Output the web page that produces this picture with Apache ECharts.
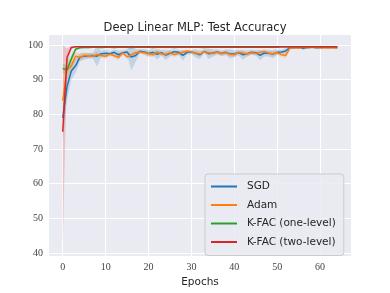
<!DOCTYPE html>
<html><head><meta charset="utf-8">
<script src="https://cdn.jsdelivr.net/npm/echarts@6/dist/echarts.min.js"></script>
<style>html,body{margin:0;padding:0;background:#fff}#c{width:390px;height:293px}</style>
</head><body><div id="c"></div>
<script>
const epochs = Array.from({length: 65}, (_, i) => i);
const xTicks = [0, 10, 20, 30, 40, 50, 60];
const yTicks = [40, 50, 60, 70, 80, 90, 100];
const seriesNames = ['SGD', 'Adam', 'K-FAC (one-level)', 'K-FAC (two-level)'];
const colors = ['#1f77b4', '#ff7f0e', '#2ca02c', '#d62728'];

const sgd = [79, 88, 92.5, 94, 96.5, 96.8, 96.9, 97.0, 96.8, 97.5, 97.6, 97.5, 97.9, 97.2, 97.8, 98.0, 96.5, 97.0, 98.2, 98.0, 97.6, 97.9, 97.3, 97.8, 97.1, 97.6, 98.1, 97.9, 97.0, 97.9, 98.0, 97.6, 97.2, 98.2, 97.5, 97.7, 98.0, 97.6, 97.9, 97.4, 97.5, 97.8, 97.2, 97.5, 97.9, 97.8, 97.0, 97.7, 97.6, 97.4, 97.9, 98.0, 98.3, 99.3, 99.2, 99.4, 99.1, 99.3, 99.4, 99.2, 99.3, 99.4, 99.3, 99.4, 99.3];
const sgdSpread = [7, 4, 2.5, 2, 1.2, 1, 0.8, 0.8, 3, 0.8, 1.2, 0.6, 0.8, 1.2, 0.6, 0.8, 3.8, 1.8, 0.6, 0.8, 1, 0.8, 1.5, 0.8, 1.4, 1, 0.6, 0.7, 1.5, 0.7, 0.6, 1.2, 1.2, 0.5, 1.5, 1, 0.7, 0.8, 0.8, 1.3, 1, 0.8, 1.4, 0.9, 0.7, 0.8, 1.4, 1, 0.9, 1.2, 0.8, 0.6, 0.8, 0.3, 0.3, 0.2, 0.5, 0.3, 0.2, 0.3, 0.5, 0.2, 0.3, 0.2, 0.2];
const adam = [84, 92.8, 94, 96.8, 96.4, 97.0, 97.0, 96.8, 97.3, 97.0, 96.8, 97.4, 96.9, 96.5, 97.8, 96.6, 97.1, 97.8, 98.0, 97.8, 97.5, 97.2, 98.0, 97.5, 97.3, 97.8, 97.2, 97.6, 97.9, 98.2, 98.0, 97.7, 97.4, 98.1, 97.8, 97.6, 97.9, 97.5, 97.8, 97.3, 97.2, 97.9, 97.7, 97.4, 97.8, 97.6, 97.9, 98.1, 97.7, 97.5, 97.8, 97.2, 97.0, 99.2, 99.3, 99.1, 99.4, 99.2, 99.3, 99.4, 99.2, 99.3, 99.2, 99.3, 99.1];
const adamSpread = [6, 3, 2, 1.2, 1, 0.8, 0.8, 0.7, 0.8, 0.7, 0.8, 0.6, 0.7, 0.8, 0.6, 0.7, 0.7, 0.6, 0.5, 0.6, 0.7, 0.7, 0.6, 0.6, 0.7, 0.6, 0.7, 0.6, 0.6, 0.5, 0.5, 0.6, 0.7, 0.5, 0.6, 0.6, 0.5, 0.6, 0.6, 0.6, 0.7, 0.5, 0.6, 0.6, 0.5, 0.6, 0.6, 0.5, 0.6, 0.7, 0.6, 0.7, 0.8, 0.3, 0.3, 0.3, 0.2, 0.3, 0.2, 0.2, 0.3, 0.2, 0.3, 0.2, 0.3];
const kfac1 = [93.2, 92.9, 96, 98.8, 99.2, 99.3, 99.3, 99.4, 99.4, 99.3, 99.4, 99.4, 99.3, 99.4, 99.4, 99.4, 99.3, 99.4, 99.4, 99.4, 99.4, 99.3, 99.4, 99.4, 99.4, 99.4, 99.3, 99.4, 99.4, 99.4, 99.4, 99.4, 99.4, 99.3, 99.4, 99.4, 99.4, 99.4, 99.4, 99.4, 99.4, 99.4, 99.4, 99.4, 99.4, 99.4, 99.4, 99.4, 99.4, 99.4, 99.4, 99.5, 99.5, 99.5, 99.5, 99.5, 99.5, 99.5, 99.5, 99.5, 99.5, 99.5, 99.5, 99.5, 99.5];
const kfac1Spread = [1.5, 1.2, 1.2, 0.5, 0.2, 0.2, 0.2, 0.1, 0.1, 0.2, 0.1, 0.1, 0.2, 0.1, 0.1, 0.1, 0.2, 0.1, 0.1, 0.1, 0.1, 0.2, 0.1, 0.1, 0.1, 0.1, 0.2, 0.1, 0.1, 0.1, 0.1, 0.1, 0.1, 0.2, 0.1, 0.1, 0.1, 0.1, 0.1, 0.1, 0.1, 0.1, 0.1, 0.1, 0.1, 0.1, 0.1, 0.1, 0.1, 0.1, 0.1, 0.1, 0.1, 0.1, 0.1, 0.1, 0.1, 0.1, 0.1, 0.1, 0.1, 0.1, 0.1, 0.1, 0.1];
const kfac2 = [75, 96.4, 99.3, 99.5, 99.5, 99.5, 99.5, 99.5, 99.5, 99.5, 99.5, 99.5, 99.5, 99.5, 99.5, 99.5, 99.5, 99.5, 99.5, 99.5, 99.5, 99.5, 99.5, 99.5, 99.5, 99.5, 99.5, 99.5, 99.5, 99.5, 99.5, 99.5, 99.5, 99.5, 99.5, 99.5, 99.5, 99.5, 99.5, 99.5, 99.5, 99.5, 99.5, 99.5, 99.5, 99.5, 99.5, 99.5, 99.5, 99.5, 99.5, 99.5, 99.5, 99.5, 99.5, 99.5, 99.5, 99.5, 99.5, 99.5, 99.5, 99.5, 99.5, 99.5, 99.5];
const kfac2Spread = [33, 2.5, 0.5, 0.2, 0.1, 0.1, 0.1, 0.1, 0.1, 0.1, 0.1, 0.1, 0.1, 0.1, 0.1, 0.1, 0.1, 0.1, 0.1, 0.1, 0.1, 0.1, 0.1, 0.1, 0.1, 0.1, 0.1, 0.1, 0.1, 0.1, 0.1, 0.1, 0.1, 0.1, 0.1, 0.1, 0.1, 0.1, 0.1, 0.1, 0.1, 0.1, 0.1, 0.1, 0.1, 0.1, 0.1, 0.1, 0.1, 0.1, 0.1, 0.1, 0.1, 0.1, 0.1, 0.1, 0.1, 0.1, 0.1, 0.1, 0.1, 0.1, 0.1, 0.1, 0.1];

const means = [sgd, adam, kfac1, kfac2];
const spreads = [sgdSpread, adamSpread, kfac1Spread, kfac2Spread];

const series = [];
means.forEach((m, k) => {
  const bandData = epochs.map((e, i) => [e, Math.max(0, m[i] - spreads[k][i]), Math.min(100, m[i] + spreads[k][i])]);
  series.push({
    type: 'custom', silent: true, clip: true, z: 1,
    data: bandData,
    encode: {x: 0, y: [1, 2]},
    renderItem: function (params, api) {
      if (params.dataIndex !== 0) return null;
      const upper = [], lower = [];
      for (let i = 0; i < bandData.length; i++) {
        upper.push(api.coord([bandData[i][0], bandData[i][2]]));
        lower.push(api.coord([bandData[i][0], bandData[i][1]]));
      }
      const pts = upper.concat(lower.reverse());
      return {
        type: 'polygon',
        shape: {points: pts},
        style: {fill: colors[k], opacity: 0.2, stroke: null}
      };
    }
  });
});
means.forEach((m, k) => {
  series.push({
    name: seriesNames[k], type: 'line', symbol: 'none',
    lineStyle: {color: colors[k], width: 1.5}, itemStyle: {color: colors[k]},
    data: epochs.map((e, i) => [e, m[i]]), z: 3
  });
});

const chart = echarts.init(document.getElementById('c'), null, {renderer: 'canvas'});
chart.setOption({
  animation: false,
  backgroundColor: '#ffffff',
  title: {
    text: 'Deep Linear MLP: Test Accuracy', left: 'center', top: 17,
    textStyle: {fontFamily: 'DejaVu Sans', fontSize: 11.5, fontWeight: 'normal', color: '#262626'}
  },
  grid: {left: 49, right: 39, top: 35, bottom: 33, show: true, backgroundColor: '#EAEAF2', borderWidth: 0},
  legend: {
    orient: 'vertical', left: 205, top: 174,
    data: seriesNames, icon: 'rect', itemWidth: 26, itemHeight: 2, itemGap: 7.5,
    padding: [7, 8, 8, 6],
    backgroundColor: 'rgba(234,234,242,0.85)', borderColor: '#cccccc', borderWidth: 1, borderRadius: 3,
    textStyle: {fontFamily: 'DejaVu Sans', fontSize: 10.5, color: '#262626', padding: [0, 0, 0, 5]}
  },
  xAxis: {
    type: 'value', min: -3.2, max: 67.2,
    name: 'Epochs', nameLocation: 'middle', nameGap: 19,
    nameTextStyle: {fontFamily: 'DejaVu Sans', fontSize: 10.5, color: '#262626'},
    axisLine: {show: false},
    axisTick: {show: false, customValues: xTicks},
    axisLabel: {customValues: xTicks, fontFamily: 'Liberation Serif', fontSize: 10, color: '#444', margin: 6},
    splitLine: {show: true, lineStyle: {color: '#ffffff', width: 1}}
  },
  yAxis: {
    type: 'value', min: 39.1, max: 102.9,
    axisLine: {show: false},
    axisTick: {show: false, customValues: yTicks},
    axisLabel: {customValues: yTicks, fontFamily: 'Liberation Serif', fontSize: 10, color: '#444', margin: 6},
    splitLine: {show: true, lineStyle: {color: '#ffffff', width: 1}}
  },
  series: series
});
</script></body></html>
